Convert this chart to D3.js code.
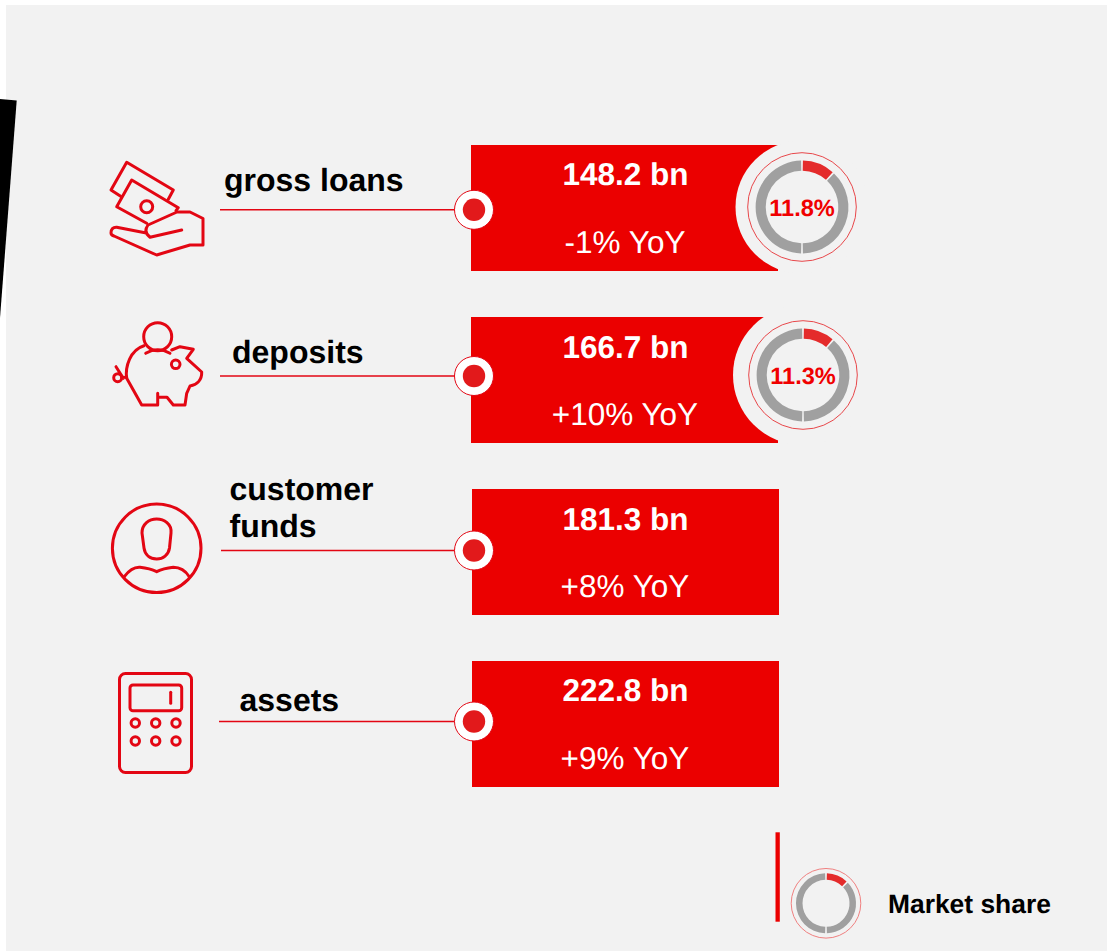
<!DOCTYPE html>
<html><head><meta charset="utf-8">
<script src="https://cdnjs.cloudflare.com/ajax/libs/d3/7.8.5/d3.min.js"></script>
<style>html,body{margin:0;padding:0;background:#fff}svg{display:block}text{font-family:"Liberation Sans",Arial,sans-serif;text-rendering:geometricPrecision}</style>
</head><body><svg id="c" width="1115" height="951"></svg>
<script>
// Data
const categories = ["gross loans", "deposits", "customer funds", "assets"];
const amounts = ["148.2 bn", "166.7 bn", "181.3 bn", "222.8 bn"];
const yoy = ["-1% YoY", "+10% YoY", "+8% YoY", "+9% YoY"];
const marketShare = [11.8, 11.3, null, null];
const legendShare = 12.5;
const legendLabel = "Market share";

// Layout per row
const labelLines = [["gross loans"], ["deposits"], ["customer", "funds"], ["assets"]];
const labelX = [224, 232, 229.5, 239.5];
const labelBase = [[191], [363], [499.5, 537], [711]];
const ruleStart = [220, 220, 221, 219];
const ruleY = [209.8, 376, 550.5, 721.5];
const cardX = [471, 471, 472, 472];
const amountBase = [40, 40.5, 40.5, 39.5];
const donutCx = [802, 803, null, null];
const donutCy = [207, 375, null, null];
const notchR = [66.5, 70, null, null];

const RED = "#EB0000", ICON = "#E30613", PANEL = "#F2F2F2", GREY = "#A0A0A0", ARC = "#E42B2B";
const svg = d3.select("#c");

const y = d3.scalePoint().domain(categories).range([145, 661]);
const pct = d3.scaleLinear().domain([0, 100]).range([0, 2 * Math.PI]);

svg.append("rect").attr("x", 6).attr("y", 5).attr("width", 1101).attr("height", 946).attr("fill", PANEL);
svg.append("path").attr("d", "M0,99 L16.7,100.5 L0,318 Z").attr("fill", "#000");

function donut(g, share, rOuter, rInner, rThin, thinColor) {
  g.append("circle").attr("r", rThin).attr("fill", "none").attr("stroke", thinColor).attr("stroke-width", 1);
  const parts = [
    { a: 0, b: share, c: ARC },
    { a: share, b: 50, c: GREY },
    { a: 50, b: 100, c: GREY }
  ];
  const gap = 0.9 / rOuter;
  const arc = d3.arc().innerRadius(rInner).outerRadius(rOuter);
  g.selectAll("path.seg").data(parts).join("path").attr("class", "seg")
    .attr("fill", d => d.c)
    .attr("d", d => arc({ startAngle: pct(d.a) + gap, endAngle: pct(d.b) - gap }));
}

categories.forEach((cat, i) => {
  const top = y(cat);
  const cx = cardX[i];
  const g = svg.append("g");
  g.append("line").attr("x1", ruleStart[i]).attr("x2", 456).attr("y1", ruleY[i]).attr("y2", ruleY[i])
    .attr("stroke", ICON).attr("stroke-width", 1.6);
  g.append("rect").attr("x", cx).attr("y", top).attr("width", 307).attr("height", 126).attr("fill", RED);

  if (marketShare[i] != null) {
    g.append("circle").attr("cx", donutCx[i]).attr("cy", donutCy[i]).attr("r", notchR[i]).attr("fill", PANEL);
    const d = g.append("g").attr("transform", `translate(${donutCx[i]},${donutCy[i]})`);
    donut(d, marketShare[i], 46.4, 36.3, 54.3, "#E8474A");
    d.append("text").attr("text-anchor", "middle").attr("y", 9).attr("font-size", 23.6).attr("font-weight", 700)
      .attr("fill", "#F00000").text(marketShare[i].toFixed(1) + "%");
  }

  g.append("circle").attr("cx", 474).attr("cy", ruleY[i]).attr("r", 19.5).attr("fill", "#fff").attr("stroke", ICON).attr("stroke-width", 1);
  g.append("circle").attr("cx", 474).attr("cy", ruleY[i]).attr("r", 11.2).attr("fill", "#E2191B");

  g.append("text").attr("x", 625.5).attr("y", top + amountBase[i]).attr("text-anchor", "middle")
    .attr("font-size", 31.5).attr("font-weight", 700).attr("fill", "#fff").text(amounts[i]);
  g.append("text").attr("x", 625).attr("y", top + 107.7).attr("text-anchor", "middle")
    .attr("font-size", 31.5).attr("fill", "#fff").text(yoy[i]);

  labelLines[i].forEach((t, k) => {
    g.append("text").attr("x", labelX[i]).attr("y", labelBase[i][k])
      .attr("font-size", 32).attr("font-weight", 700).attr("fill", "#000").text(t);
  });
});

// Icons (decoration)
const icons = svg.append("g").attr("fill", "none").attr("stroke", ICON).attr("stroke-width", 3)
  .attr("stroke-linejoin", "round").attr("stroke-linecap", "round");
const iconPaths = [
  "M168.3,199.3 L173.3,190 L126.7,162.3 L111,190 L121,196.5",
  "M176,210.7 L178.3,207.7 L131.7,180 L116.7,206.7 L146.7,223.3",
  "M145,232.7 L116.7,227.3 Q111,227 111,233 Q111,235 114,236 L156.7,255 L190,245 L203,245 L203,218.5 L190,212 L177,212 L148,225 Q143,232 150,237.3 L181.7,230",
  "M144,345.7 C130,350 125,367 126.7,378.3 L141.7,405 L157.7,405 L157.7,393.3 L157.7,397.3 L167,397.3 L173.3,405 L185,405 L186.7,393.3 L190,386 C197,385 202,380 201.7,372 L186.7,358.3 L193.3,349.3 L180,346.7 L171.7,350",
  "M145.7,353.3 Q157.7,346 170,353.3",
  "M116,366.7 L123.3,378.3 M121.7,377.5 L126.7,377.3",
  "M142,533 C142,524 149,519 156.7,519 C164,519 172,524 171,533 L169.5,548 C168.5,555 163,559 156.7,559 C150,559 145,555 144,548 Z",
  "M124.3,576.7 Q131.7,566.7 140,567.3 Q150,568.3 156.7,571.7 Q163.3,568.3 173.3,567.3 Q183.3,567.3 189.3,576.7",
  "M170.7,692.3 L170.7,703.3"
];
icons.selectAll("path").data(iconPaths).join("path").attr("d", d => d);
const iconCircles = [
  [146.7, 206.7, 6], [157.7, 336.7, 14], [175.7, 364.3, 4.3], [117.7, 377.7, 4], [156.7, 548.3, 44.3],
  [135.3, 723, 4.2], [155.7, 723, 4.2], [176, 723, 4.2], [135.3, 741, 4.2], [155.7, 741, 4.2], [176, 741, 4.2]
];
icons.selectAll("circle").data(iconCircles).join("circle").attr("cx", d => d[0]).attr("cy", d => d[1]).attr("r", d => d[2]);
icons.append("rect").attr("x", 119.5).attr("y", 673.5).attr("width", 72).attr("height", 99).attr("rx", 6);
icons.append("rect").attr("x", 130).attr("y", 685).attr("width", 51.7).attr("height", 25.7).attr("rx", 3);

// Legend
svg.append("rect").attr("x", 775.5).attr("y", 832.3).attr("width", 4.3).attr("height", 89.4).attr("fill", "#EB0000");
donut(svg.append("g").attr("transform", "translate(826,903.3)"), legendShare, 30, 23.5, 34.8, "#F08080");
svg.append("text").attr("x", 888).attr("y", 913).attr("font-size", 26.4).attr("font-weight", 700).attr("fill", "#000").text(legendLabel);
</script></body></html>
